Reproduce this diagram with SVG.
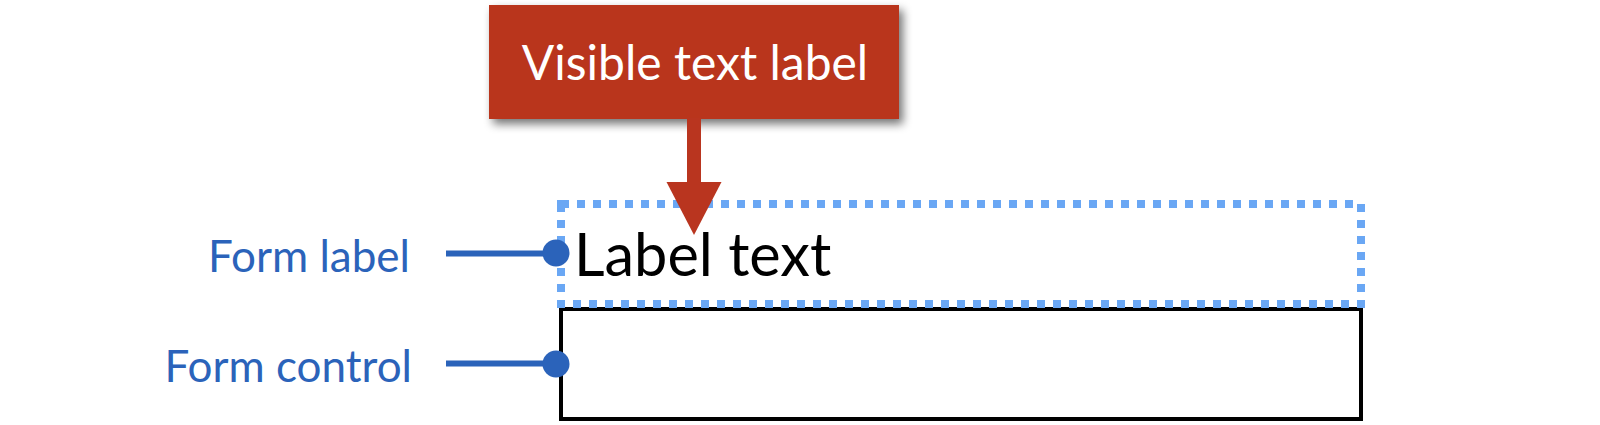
<svg xmlns="http://www.w3.org/2000/svg" width="1600" height="425" viewBox="0 0 1600 425">
<style>
.lbl{font-family:Lato,"Liberation Sans",sans-serif;fill:#2B63BA;font-size:44px;text-anchor:end}
.conn{stroke:#2B63BA;stroke-width:6;fill:none}
.dot{fill:#2B63BA}
</style>
<defs>
<filter id="sh" x="-10%" y="-20%" width="130%" height="150%">
<feGaussianBlur in="SourceAlpha" stdDeviation="5"/>
<feOffset dx="4" dy="5" result="b"/>
<feComponentTransfer><feFuncA type="linear" slope="0.55"/></feComponentTransfer>
<feMerge><feMergeNode/><feMergeNode in="SourceGraphic"/></feMerge>
</filter>
</defs>
<rect width="1600" height="425" fill="#fff"/>
<g id="form-control">
<rect x="561" y="309" width="800" height="110" fill="#fff" stroke="#000" stroke-width="4"/>
</g>
<g id="form-label">
<rect x="561" y="204" width="800" height="100" fill="none" stroke="#6AA7F4" stroke-width="8" stroke-dasharray="8 8"/>
<text x="574" y="276" font-family="Lato,'Liberation Sans',sans-serif" font-size="59.5" fill="#000">Label text</text>
</g>
<g id="visible-text-label">
<rect x="489" y="5" width="410" height="114" fill="#B9351F" filter="url(#sh)"/>
<text x="695" y="80" font-family="Lato,'Liberation Sans',sans-serif" font-size="48" fill="#fff" text-anchor="middle">Visible text label</text>
</g>
<g id="side-labels">
<text class="lbl" x="410" y="272">Form label</text>
<text class="lbl" x="412" y="382">Form control</text>
</g>
<g id="connectors">
<line class="conn" x1="446" y1="253.5" x2="556" y2="253.5"/>
<circle class="dot" cx="556" cy="253" r="13.5"/>
<line class="conn" x1="446" y1="363.5" x2="556" y2="363.5"/>
<circle class="dot" cx="556" cy="364" r="13.5"/>
<rect x="687" y="118" width="14" height="66" fill="#B9351F"/>
<polygon points="666.5,182 721.5,182 694,235" fill="#B9351F"/>
</g>
</svg>
